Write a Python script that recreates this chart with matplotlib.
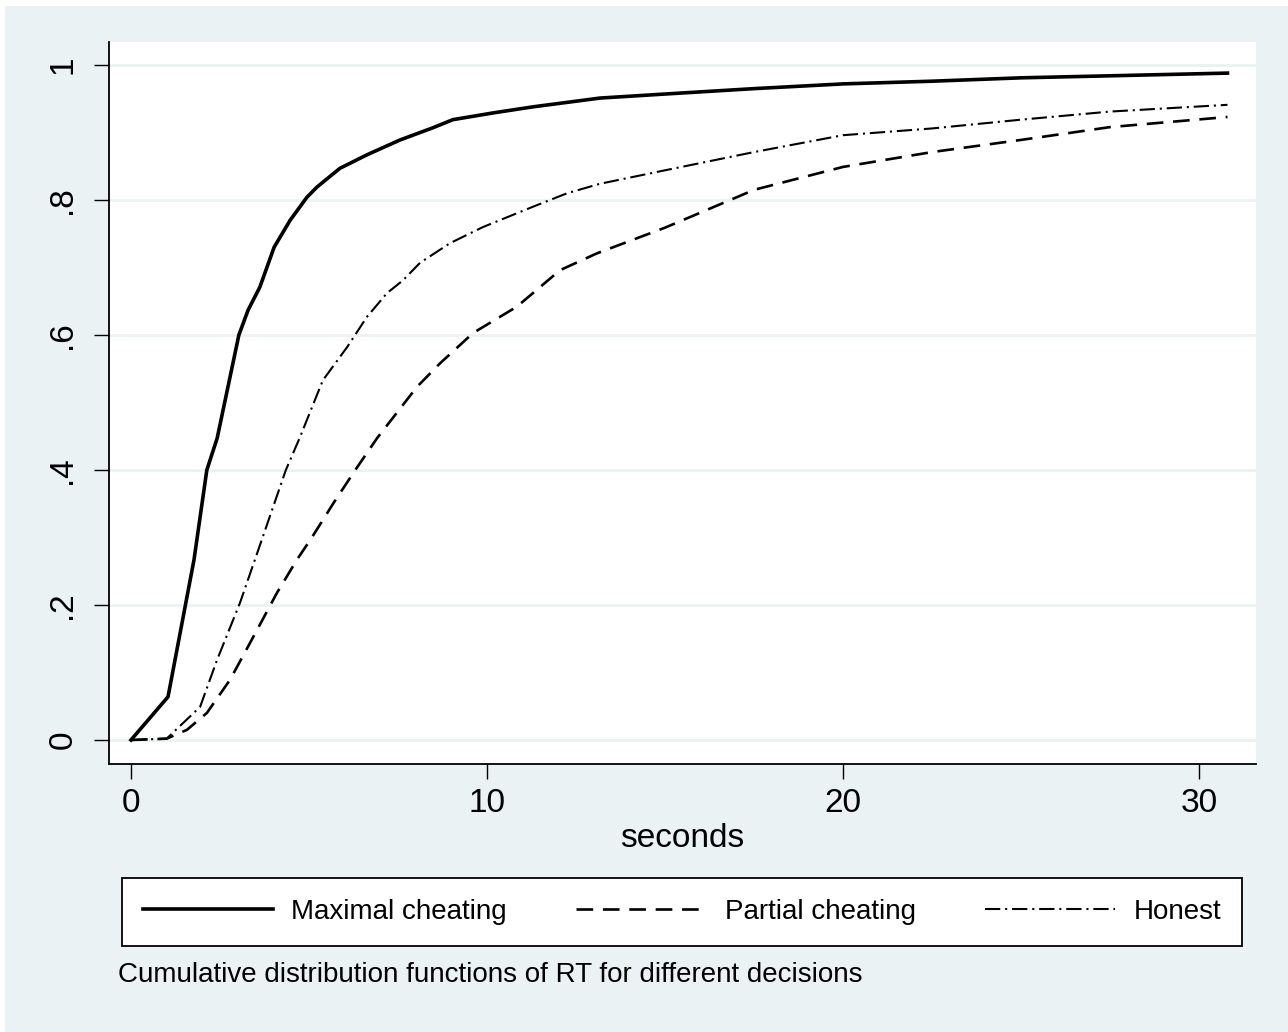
import matplotlib
matplotlib.use("Agg")
import matplotlib.pyplot as plt
from matplotlib.lines import Line2D
from matplotlib.patches import Rectangle

plt.rcParams['font.family'] = ['Liberation Sans', 'DejaVu Sans']
plt.rcParams['lines.scale_dashes'] = False

# ---- data ----
max_x = [0, 1.04, 1.77, 2.13, 2.42, 3.03, 3.29, 3.62, 4.02, 4.47, 4.94, 5.22, 5.87,
         6.63, 7.56, 8.48, 9.04, 10.17, 11.29, 13.17, 15.0, 17.5, 20.0, 22.5, 25.0, 27.5, 30.8]
max_y = [0, 0.064, 0.267, 0.40, 0.447, 0.60, 0.637, 0.671, 0.73, 0.770, 0.804, 0.819, 0.847,
         0.867, 0.889, 0.907, 0.919, 0.929, 0.938, 0.951, 0.957, 0.965, 0.972, 0.976, 0.981, 0.984, 0.988]

par_x = [0, 1.0, 1.57, 2.13, 2.78, 3.54, 4.10, 4.66, 5.08, 5.7, 6.3, 6.91, 8.03, 8.68, 9.61,
         10.84, 12.05, 13.09, 15.0, 17.5, 20.0, 22.5, 25.0, 27.5, 30.8]
par_y = [0, 0.002, 0.015, 0.040, 0.089, 0.163, 0.218, 0.267, 0.30, 0.352, 0.40, 0.447, 0.523, 0.558, 0.603,
         0.642, 0.696, 0.721, 0.759, 0.815, 0.849, 0.871, 0.889, 0.908, 0.923]

hon_x = [0, 1.0, 1.94, 2.42, 3.06, 3.48, 4.35, 4.75, 4.94, 5.39, 6.07, 6.63, 7.19, 7.64,
         8.12, 8.96, 9.89, 11.29, 12.25, 13.17, 15.0, 17.5, 20.0, 22.5, 25.0, 27.5, 30.8]
hon_y = [0, 0.002, 0.049, 0.119, 0.203, 0.267, 0.40, 0.449, 0.474, 0.533, 0.582, 0.627, 0.662, 0.681,
         0.707, 0.736, 0.760, 0.790, 0.810, 0.824, 0.844, 0.871, 0.896, 0.906, 0.919, 0.931, 0.941]

series_names = ["Maximal cheating", "Partial cheating", "Honest"]
x_ticks = [0, 10, 20, 30]
y_ticks = [0, 0.2, 0.4, 0.6, 0.8, 1.0]
y_ticklabels = ["0", ".2", ".4", ".6", ".8", "1"]
x_label = "seconds"
caption = "Cumulative distribution functions of RT for different decisions"

BG = "#EAF2F3"
W, H = 1288, 1032
fig = plt.figure(figsize=(W / 100, H / 100), dpi=100)
fig.patch.set_facecolor("white")
fig.patches.append(Rectangle((5 / W, 0), 1, 1 - 6 / H, transform=fig.transFigure,
                             facecolor=BG, edgecolor="none", zorder=-10))

ax = fig.add_axes([109 / W, 1 - 764 / H, (1256 - 109) / W, (764 - 42) / H])
ax.set_facecolor("white")

styles = [
    dict(color="black", lw=2.6, linestyle="-"),
    dict(color="black", lw=1.9, linestyle=(0, (12, 7))),
    dict(color="black", lw=1.5, linestyle=(0, (11, 3.5, 1.5, 3.5))),
]
for (xs, ys), st in zip([(max_x, max_y), (par_x, par_y), (hon_x, hon_y)], styles):
    ax.plot(xs, ys, solid_joinstyle="round", **st)

ax.set_xlim((109 - 131) / 35.6, (1256 - 131) / 35.6)
ax.set_ylim((740 - 764) / 675, (740 - 42) / 675)

ax.set_yticks(y_ticks)
ax.set_yticklabels(y_ticklabels, rotation=90, va="center")
ax.set_xticks(x_ticks)
ax.set_xticklabels([str(t) for t in x_ticks])
ax.tick_params(axis="both", which="major", length=11, width=1.0, direction="out",
               labelsize=24, colors="black")
ax.tick_params(axis="y", pad=11)
ax.tick_params(axis="x", pad=6)

ax.grid(axis="y", color=BG, lw=2.0)
ax.set_axisbelow(True)
for s in ["top", "right"]:
    ax.spines[s].set_visible(False)
for s in ["left", "bottom"]:
    ax.spines[s].set_linewidth(1.3)
    ax.spines[s].set_color("black")

ax.set_xlabel(x_label, fontsize=24, labelpad=3)

handles = [Line2D([], [], **st) for st in styles]
leg = fig.legend(handles, series_names, ncol=3, loc="lower left",
                 bbox_to_anchor=(122 / W, 1 - 946 / H, (1242 - 122) / W, (946 - 878) / H),
                 mode="expand", fontsize=20, handlelength=4.7, handletextpad=0.65,
                 borderaxespad=0, borderpad=0.75, frameon=True, fancybox=False,
                 framealpha=1, edgecolor="black", columnspacing=1.0)
leg.get_frame().set_linewidth(1.3)

fig.text(118 / W, 1 - 975 / H, caption, fontsize=20, va="center", ha="left")

fig.savefig("out.png", dpi=100, facecolor=fig.get_facecolor())
